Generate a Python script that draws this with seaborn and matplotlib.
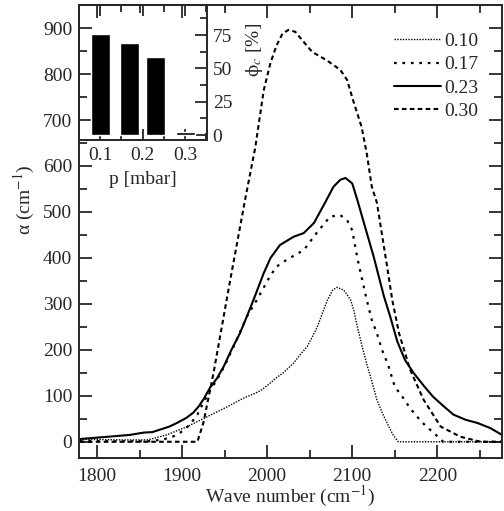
import numpy as np
import pandas as pd
import seaborn as sns
import matplotlib.pyplot as plt
from matplotlib.ticker import MultipleLocator

sns.set_style('ticks')
plt.rcParams['font.family'] = ['Liberation Serif', 'DejaVu Serif']
plt.rcParams['mathtext.fontset'] = 'stix'

# --- absorption spectra ---
wn_010 = [1780, 1800, 1830, 1859, 1870, 1882, 1894, 1906, 1918, 1929, 1941, 1953, 1965,
          1976, 1984, 1992, 2000, 2012, 2019, 2031, 2039, 2047, 2053, 2059, 2065, 2071,
          2077, 2082, 2090, 2098, 2102, 2106, 2112, 2118, 2124, 2129, 2136, 2143, 2148,
          2154, 2200, 2276]
a_010 = [5, 5, 4, 4, 9, 15, 24, 33, 44, 54, 65, 76, 88,
         98, 104, 111, 122, 141, 150, 171, 190, 207, 228, 250, 280, 309,
         330, 336, 330, 309, 285, 250, 205, 163, 125, 91, 60, 33, 15,
         0, 0, 0]

wn_017 = [1780, 1820, 1860, 1878, 1890, 1898, 1909, 1918, 1925, 1933, 1941, 1950, 1960,
          1968, 1976, 1988, 2003, 2011, 2023, 2043, 2058, 2074, 2086, 2094, 2100, 2106,
          2112, 2117, 2123, 2129, 2135, 2142, 2150, 2160, 2168, 2176, 2186, 2196, 2207,
          2276]
a_017 = [2, 1, 1, 5, 12, 20, 37, 59, 85, 112, 135, 165, 205,
         238, 272, 309, 359, 381, 396, 417, 454, 490, 493, 482, 460, 400,
         350, 309, 265, 236, 200, 168, 120, 95, 73, 55, 35, 19, 0,
         0]

wn_023 = [1780, 1800, 1820, 1839, 1855, 1865, 1875, 1885, 1894, 1905, 1913, 1920, 1925,
          1933, 1941, 1949, 1958, 1968, 1976, 1984, 1996, 2004, 2015, 2031, 2043, 2055,
          2068, 2078, 2086, 2092, 2100, 2106, 2115, 2125, 2137, 2145, 2153, 2162, 2172,
          2184, 2195, 2207, 2219, 2233, 2247, 2262, 2276]
a_023 = [6, 9, 12, 15, 20, 21, 27, 33, 41, 52, 63, 78, 92,
         118, 138, 164, 200, 236, 272, 309, 367, 400, 428, 446, 454, 476,
         520, 555, 570, 574, 562, 526, 468, 404, 318, 270, 218, 178, 150,
         122, 98, 78, 59, 48, 41, 30, 15]

wn_030 = [1780, 1850, 1918, 1925, 1937, 1956, 1974, 1986, 1996, 2004, 2011, 2018, 2025,
          2033, 2042, 2053, 2070, 2086, 2094, 2101, 2111, 2117, 2123, 2129, 2141, 2147,
          2155, 2168, 2184, 2204, 2227, 2251, 2276]
a_030 = [0, 0, 0, 41, 150, 346, 526, 640, 765, 825, 862, 888, 896,
         892, 872, 848, 830, 809, 787, 743, 685, 628, 555, 520, 381, 309,
         236, 157, 91, 33, 11, 0, 0]

# --- inset: phi_c vs pressure ---
p_mbar = [0.10, 0.17, 0.23, 0.30]
phi_c = [75.7, 69.0, 58.7, 2.5]

labels = ['0.10', '0.17', '0.23', '0.30']
wns = [wn_010, wn_017, wn_023, wn_030]
alphas = [a_010, a_017, a_023, a_030]
styles = [dict(lw=1.0, ls=(0, (1, 1))),
          dict(lw=1.6, ls=(0, (1.2, 2.6))),
          dict(lw=1.5, ls='-'),
          dict(lw=1.5, ls=(0, (2.2, 1.6)))]

fig = plt.figure(figsize=(5.04, 5.11), dpi=100)
ax = fig.add_axes([0.157, 0.104, 0.839, 0.886])

for lab, x, y, st in zip(labels, wns, alphas, styles):
    sns.lineplot(x=x, y=y, ax=ax, color='black', label=lab,
                 linewidth=st['lw'], linestyle=st['ls'])

ax.set_xlim(1779, 2276)
ax.set_ylim(-35, 950)
ax.xaxis.set_major_locator(MultipleLocator(100))
ax.xaxis.set_minor_locator(MultipleLocator(50))
ax.yaxis.set_major_locator(MultipleLocator(100))
ax.yaxis.set_minor_locator(MultipleLocator(50))
ax.tick_params(which='major', direction='in', length=9.5, width=1.3,
               top=True, right=True, labelsize=14, pad=5)
ax.tick_params(axis='x', which='major', pad=7)
ax.tick_params(which='minor', direction='in', length=5.5, width=1.3,
               top=True, right=True)
for sp in ax.spines.values():
    sp.set_linewidth(1.4)

ax.set_xlabel('Wave number (cm$^{-1}$)', fontsize=14)
ax.xaxis.set_label_coords(0.5, -0.058)
ax.set_ylabel('α (cm$^{-1}$)', fontsize=14)
ax.yaxis.set_label_coords(-0.1, 0.57)

ax.legend(loc='upper right', bbox_to_anchor=(0.943, 0.94), frameon=False,
          fontsize=14, handlelength=2.4, handletextpad=0.15, labelspacing=0.3,
          borderpad=0, borderaxespad=0)

# inset
ax_in = fig.add_axes([0.157, 0.726, 0.254, 0.264])
ax_in.set_facecolor('none')
df_bar = pd.DataFrame({'p': p_mbar, 'phi': phi_c})
sns.barplot(data=df_bar, x='p', y='phi', native_scale=True, color='black',
            saturation=1, width=0.75, errorbar=None, ax=ax_in)
ax_in.set_xlim(0.0506, 0.352)
ax_in.set_ylim(-3.75, 97.5)
ax_in.xaxis.set_major_locator(MultipleLocator(0.1))
ax_in.xaxis.set_minor_locator(MultipleLocator(0.05))
ax_in.yaxis.set_major_locator(MultipleLocator(25))
ax_in.yaxis.set_minor_locator(MultipleLocator(12.5))
ax_in.set_xticks([0.1, 0.2, 0.3])
ax_in.set_xticklabels(['0.1', '0.2', '0.3'])
ax_in.tick_params(axis='x', which='major', direction='in', length=8, width=1.3,
                  top=True, bottom=True, labelsize=14, pad=5)
ax_in.tick_params(axis='x', which='minor', direction='in', length=5, width=1.3,
                  top=True, bottom=True)
ax_in.tick_params(axis='y', which='major', direction='in', length=9, width=1.3,
                  left=False, right=True, labelleft=False, labelright=True,
                  labelsize=14, pad=4)
ax_in.tick_params(axis='y', which='minor', direction='in', length=5, width=1.3,
                  left=False, right=True)
for sp in ax_in.spines.values():
    sp.set_linewidth(1.4)
ax_in.set_xlabel('p [mbar]', fontsize=14, labelpad=5)
ax_in.set_ylabel(r'$\mathrm{\phi}_c$ [%]', fontsize=14)
ax_in.yaxis.set_label_position('right')
ax_in.yaxis.set_label_coords(1.29, 0.667)

fig.savefig('out.png', dpi=100)
